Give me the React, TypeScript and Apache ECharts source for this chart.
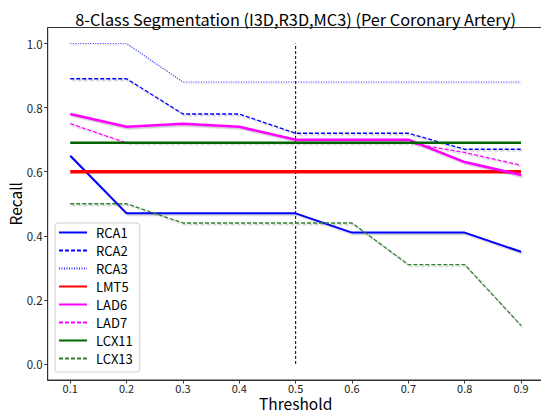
import React, { useEffect, useRef } from "react";
import * as echarts from "echarts";

const thresholds = [0.1, 0.2, 0.3, 0.4, 0.5, 0.6, 0.7, 0.8, 0.9];
const seriesNames = ["RCA1", "RCA2", "RCA3", "LMT5", "LAD6", "LAD7", "LCX11", "LCX13"];
const rca1 = [0.65, 0.47, 0.47, 0.47, 0.47, 0.41, 0.41, 0.41, 0.35];
const rca2 = [0.89, 0.89, 0.78, 0.78, 0.72, 0.72, 0.72, 0.67, 0.67];
const rca3 = [1.0, 1.0, 0.88, 0.88, 0.88, 0.88, 0.88, 0.88, 0.88];
const lmt5 = [0.6, 0.6, 0.6, 0.6, 0.6, 0.6, 0.6, 0.6, 0.6];
const lad6 = [0.78, 0.74, 0.75, 0.74, 0.7, 0.7, 0.7, 0.63, 0.59];
const lad7 = [0.75, 0.69, 0.69, 0.69, 0.69, 0.69, 0.69, 0.66, 0.62];
const lcx11 = [0.69, 0.69, 0.69, 0.69, 0.69, 0.69, 0.69, 0.69, 0.69];
const lcx13 = [0.5, 0.5, 0.44, 0.44, 0.44, 0.44, 0.31, 0.31, 0.12];
const xTicks = [0.1, 0.2, 0.3, 0.4, 0.5, 0.6, 0.7, 0.8, 0.9];
const yTicks = [0.0, 0.2, 0.4, 0.6, 0.8, 1.0];
const vlineX = 0.5;
const vlineY = [0.0, 1.0];
const titleText = "8-Class Segmentation (I3D,R3D,MC3) (Per Coronary Artery)";

const FONT = "Noto Sans CJK JP";

const seriesValues = [rca1, rca2, rca3, lmt5, lad6, lad7, lcx11, lcx13];
const seriesStyles = [
  { color: "#0000ff", width: 2, type: "solid" },
  { color: "#0000ff", width: 1.3, type: [4, 2] },
  { color: "#3333ff", width: 1.2, type: [1, 1.5] },
  { color: "#ff0000", width: 3.5, type: "solid" },
  { color: "#ff00ff", width: 2.5, type: "solid" },
  { color: "#ff00ff", width: 1.3, type: [4, 2] },
  { color: "#006400", width: 2.5, type: "solid" },
  { color: "#2f7f2f", width: 1.3, type: [4, 2] },
];

export default function App() {
  const ref = useRef<HTMLDivElement>(null);
  useEffect(() => {
    if (!ref.current) return;
    const chart = echarts.init(ref.current, undefined, { renderer: "svg" });
    const series: any[] = seriesNames.map((name, i) => {
      const vals = seriesValues[i];
      const flat = Math.max(...vals) === Math.min(...vals);
      return {
        name,
        type: "line",
        symbol: "none",
        showSymbol: false,
        z: 3,
        data: thresholds.map((t, j) => [t, vals[j]]),
        lineStyle: {
          color: seriesStyles[i].color,
          width: seriesStyles[i].width,
          type: seriesStyles[i].type,
          ...(flat
            ? {}
            : {
                shadowColor: "rgba(0,0,0,0.22)",
                shadowBlur: 1,
                shadowOffsetX: 1.5,
                shadowOffsetY: 1.5,
              }),
        },
        itemStyle: { color: seriesStyles[i].color },
      };
    });
    series.push({
      name: "_vline",
      type: "line",
      symbol: "none",
      z: 2,
      data: vlineY.map((y) => [vlineX, y]),
      lineStyle: { color: "#000", width: 1, type: [3, 2] },
    });
    chart.setOption({
      animation: false,
      graphic: [
        {
          type: "text",
          x: 295.6,
          y: 19,
          style: {
            text: titleText,
            fontFamily: FONT,
            fontSize: 16.3,
            fill: "#000",
            textAlign: "center",
            textVerticalAlign: "middle",
          },
        },
      ],
      grid: {
        left: 47.7,
        top: 27.5,
        right: 560 - 543.6,
        bottom: 32,
        outerBoundsMode: "none",
        containLabel: false,
        show: true,
        borderColor: "#333",
        borderWidth: 1,
        backgroundColor: "#fff",
      },
      legend: {
        data: seriesNames,
        orient: "vertical",
        left: 55,
        top: 223,
        padding: [3, 7, 7, 3],
        itemWidth: 28,
        itemHeight: 12,
        itemGap: 5,
        borderColor: "#d0d0d0",
        borderWidth: 1,
        borderRadius: 3,
        backgroundColor: "rgba(255,255,255,0.85)",
        itemStyle: { opacity: 0, borderWidth: 0 },
        lineStyle: { shadowBlur: 0, shadowOffsetX: 0, shadowOffsetY: 0, shadowColor: "transparent" },
        textStyle: { fontFamily: FONT, fontSize: 13, color: "#000", padding: [0, 0, 0, 4] },
      },
      xAxis: {
        type: "value",
        min: 0.06,
        max: 0.94,
        name: "Threshold",
        nameLocation: "middle",
        nameGap: 14.5,
        nameMoveOverlap: false,
        nameTextStyle: { fontFamily: FONT, fontSize: 15.5, lineHeight: 16, color: "#000" },
        axisLine: { show: true, onZero: false, lineStyle: { color: "#333", width: 1 } },
        axisTick: { show: true, length: 3.5, customValues: xTicks, lineStyle: { color: "#333" } },
        axisLabel: {
          customValues: xTicks,
          formatter: (v: number) => v.toFixed(1),
          fontFamily: FONT,
          fontSize: 11,
          lineHeight: 11,
          color: "#222",
          margin: 2.5,
        },
        splitLine: { show: false },
      },
      yAxis: {
        type: "value",
        min: -0.05,
        max: 1.05,
        name: "Recall",
        nameLocation: "middle",
        nameGap: 25,
        nameMoveOverlap: false,
        nameTextStyle: { fontFamily: FONT, fontSize: 15.5, color: "#000" },
        axisLine: { show: true, onZero: false, lineStyle: { color: "#333", width: 1 } },
        axisTick: { show: true, length: 3.5, customValues: yTicks, lineStyle: { color: "#333" } },
        axisLabel: {
          customValues: yTicks,
          formatter: (v: number) => v.toFixed(1),
          fontFamily: FONT,
          fontSize: 11.5,
          color: "#222",
          margin: 5,
        },
        splitLine: { show: false },
      },
      series,
    });
    return () => chart.dispose();
  }, []);
  return (
    <div style={{ position: "fixed", left: 0, top: 0, width: 541, height: 412, overflow: "hidden", background: "#fff" }}>
      <div ref={ref} style={{ width: 560, height: 412 }} />
    </div>
  );
}
